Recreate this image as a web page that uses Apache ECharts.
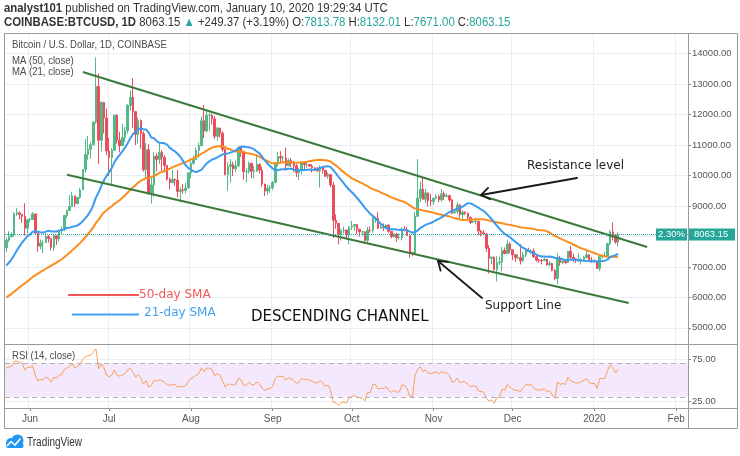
<!DOCTYPE html>
<html><head><meta charset="utf-8">
<script src="https://cdn.jsdelivr.net/npm/echarts@6/dist/echarts.min.js"></script>
<style>html,body{margin:0;padding:0;background:#fff}#c{width:740px;height:456px}</style>
</head><body><div id="c"></div>
<script>
// ---------- data ----------
const startDate = '2019-05-23';
const axisEndDate = '2020-02-05';
// closes before the visible window (Apr 1 - May 22, 2019), used for MA / RSI warm-up
const histCloses = [4146,4880,4975,4905,5045,5055,5190,5280,5195,5325,5030,5085,5075,5160,5030,5210,5240,5285,5285,5325,5290,5390,5545,5445,5210,5275,5270,5285,5225,5325,
  5380,5480,5760,5855,5780,5720,5840,5970,6150,6350,7250,6975,7815,7985,8200,7880,7355,7260,8195,7990,7960,7630];
const opens = [
  7630,7880,7995,8060,8740,8775,8720,8660,8270,
  8550,8555,8740,8110,7680,7790,7800,8000,7930,7630, 8020,7920,8180,8230,8690,8850,8980,9330,9080,9280, 9530,10200,10690,10860,11010,11750,12930,11160,12400,11890,
  10810,10590,10830,11980,11170,10980,11250,11480,12300,12570, 12100,11350,11810,11380,10190,10850,9430,9690,10640,10530, 10760,10590,10330,9880,9770,9880,9850,9480,9530,9510,9590,
  10090,10400,10530,10820,10980,11800,11460,11980,11980,11860, 11290,11560,11390,10860,10030,10300,10360,10220,10320,10920, 10760,10130,10130,10400,10140,10140,10370,10180,9720,9490,9580,
  9600,9770,10390,10620,10580,10580,10320,10490,10410,10320, 10100,10160,10420,10360,10360,10310,10260,10190,10160,10270, 10170,9980,10030,9690,8530,8430,8060,8190,8210,8050,
  8300,8340,8390,8240,8150,8150,7870,8210,8190,8590, 8590,8270,8300,8290,8370,8170,8000,8080,7960,7960, 8230,8220,8030,7470,7440,8660,9260,9550,9220,9430,9180,
  9150,9250,9310,9200,9400,9310,9340,9200,8770,8810, 9030,8720,8800,8760,8630,8460,8490,8500,8180,8120, 8080,7610,7280,7320,6910,7140,7160,7540,7440,7750,
  7560,7400,7300,7300,7200,7390,7540,7500,7520,7340, 7220,7210,7200,7250,7070,7110,6880,6620,7280,7150, 7190,7140,7510,7320,7260,7200,7200,7250,7310,7390,7220,
  7170,7180,6950,7340,7350,7350,7760,8150,8050,7813.78];
const highs = [
  7960,8170,8140,8800,8940,8820,8740,9090,8580,
  8620,8800,8750,8115,7900,7870,8120,8050,7950,8060, 8040,8220,8330,8710,8880,9360,9470,9340,9300,9600, 10200,11200,11300,11090,11780,13880,13350,12440,12420,12200,
  11240,10900,11980,12010,11440,11700,11600,12350,12800,13200, 12100,11900,11840,11450,11070,11030,9990,10770,10740,11090, 10840,10670,10340,9930,10190,9890,10190,9610,9720,9750,10110,
  10470,10660,10920,11080,11940,12320,12140,12060,12030,11950, 11600,11570,11450,10890,10440,10540,10460,10500,10960,10950, 10790,10240,10460,10420,10310,10650,10390,10290,9730,9690,9680,
  9820,10450,10780,10800,10650,10920,10560,10580,10480,10380, 10250,10450,10440,10420,10380,10370,10270,10280,10330,10280, 10180,10100,10050,9790,8720,8440,8260,8320,8220,8340,
  8510,8390,8400,8250,8180,8170,8310,8330,8660,8650, 8800,8420,8430,8400,8400,8180,8110,8120,8100,8300, 8340,8300,8040,7500,8800,10540,9800,9950,9560,9440,9400,
  9280,9380,9370,9550,9480,9420,9370,9230,8880,9120, 9070,8860,8820,8790,8650,8530,8620,8500,8210,8200, 8110,7710,7340,7340,7350,7340,7650,7640,7870,7810,
  7560,7420,7410,7750,7490,7560,7630,7580,7610,7400, 7260,7260,7300,7260,7190,7140,6930,7440,7360,7220, 7190,7520,7690,7430,7270,7440,7280,7360,7520,7420,7330,
  7250,7210,7400,7400,7500,7800,8210,8460,8050,8132.01];
const lows = [
  7480,7810,7960,7990,8680,8560,8450,8030,8110,
  8460,8550,8080,7500,7580,7450,7790,7800,7540,7520, 7720,7840,8050,8180,8610,8850,8980,8960,9050,9240, 9530,10100,10520,10560,11010,11700,10380,10790,11380,10670,
  9980,9700,10830,11050,10760,10980,11100,11380,12130,11570, 11000,11060,10880,10130,9880,9370,9080,9300,10140,10380, 10150,10100,9830,9550,9760,9660,9280,9120,9400,9410,9580,
  9910,10350,10520,10580,10980,11230,11420,11480,11670,11200, 11140,11260,10780,10010,9500,9770,9990,10110,10270,10610, 9860,9770,10060,9920,9900,10120,10060,9630,9330,9360,9430,
  9530,9760,10300,10400,10470,10160,10310,10280,10120,9950, 9860,10040,10160,10260,10280,10100,10150,10110,9610,10060, 9960,9900,9620,7950,8250,7740,7870,8110,7900,7740,
  8210,8180,8070,8000,8030,7770,7790,8120,8120,8450, 8240,8260,8180,8250,8120,7940,7960,7830,7900,7870, 8160,8020,7300,7360,7400,8640,9130,9190,9100,8980,8990,
  9040,9220,9120,9140,9200,9290,9130,8730,8760,8740, 8600,8570,8700,8570,8400,8450,8400,8050,8000,8040, 7500,6780,7090,6880,6520,7070,6850,7410,7420,7450,
  7220,7160,7250,7080,7170,7320,7490,7420,7290,7170, 7130,7080,7200,7030,7020,6850,6560,6430,7040,7080, 7090,7130,7260,7160,7130,7160,7080,7240,7280,7220,7150,
  7150,6930,6870,7270,7320,7350,7720,7870,7760,7671.00];
const closes = [
  7880,7995,8060,8740,8775,8720,8660,8270,8550,
  8555,8740,8110,7680,7790,7800,8000,7930,7630,8020, 7920,8180,8230,8690,8850,8980,9330,9080,9280,9530, 10200,10690,10860,11010,11750,12930,11160,12400,11890,10810,
  10590,10830,11980,11170,10980,11250,11480,12300,12570,12100, 11350,11810,11380,10190,10850,9430,9690,10640,10530,10760, 10590,10330,9880,9770,9880,9850,9480,9530,9510,9590,10090,
  10400,10530,10820,10980,11800,11460,11980,11980,11860,11290, 11560,11390,10860,10030,10300,10360,10220,10320,10920,10760, 10130,10130,10400,10140,10140,10370,10180,9720,9490,9580,9600,
  9770,10390,10620,10580,10580,10320,10490,10410,10320,10100, 10160,10420,10360,10360,10310,10260,10190,10160,10270,10170, 9980,10030,9690,8530,8430,8060,8190,8210,8050,8300,
  8340,8390,8240,8150,8150,7870,8210,8190,8590,8590, 8270,8300,8290,8370,8170,8000,8080,7960,7960,8230, 8220,8030,7470,7440,8660,9260,9550,9220,9430,9180,9150,
  9250,9310,9200,9400,9310,9340,9200,8770,8810,9030, 8720,8800,8760,8630,8460,8490,8500,8180,8120,8080, 7610,7280,7320,6910,7140,7160,7540,7440,7750,7560,
  7400,7300,7300,7200,7390,7540,7500,7520,7340,7220, 7210,7200,7250,7070,7110,6880,6620,7280,7150,7190, 7140,7510,7320,7260,7200,7200,7250,7310,7390,7220,7170,
  7180,6950,7340,7350,7350,7760,8150,8050,7813.78,8063.15];
const priceTicks = [5000,6000,7000,8000,9000,10000,11000,12000,13000,14000];
const rsiTicks = [25,75];
const rsiBands = [30,70];
const monthNames = ['Jan','Feb','Mar','Apr','May','Jun','Jul','Aug','Sep','Oct','Nov','Dec'];
// drawn channel (date, price) anchors
const resistanceLine = [['2019-06-21',13401],['2020-01-21',7654]];
const supportLine = [['2019-06-15',10025],['2020-01-14',5814]];
const lastLabelPct = '2.30%';

// ---------- helpers ----------
const SANS = '"Liberation Sans",Arial,sans-serif';
const DEJAVU = '"DejaVu Sans",Verdana,sans-serif';
function pad(n){return n<10?'0'+n:''+n;}
const dates = [];
(function(){
  const s = startDate.split('-').map(Number), e = axisEndDate.split('-').map(Number);
  let t = Date.UTC(s[0],s[1]-1,s[2]); const end = Date.UTC(e[0],e[1]-1,e[2]);
  while (t <= end) { const d = new Date(t); dates.push(d.getUTCFullYear()+'-'+pad(d.getUTCMonth()+1)+'-'+pad(d.getUTCDate())); t += 86400000; }
})();
const isMonthStart = (i, v) => v.slice(8) === '01';
const monthLabel = v => { const m = +v.slice(5,7); return m === 1 ? v.slice(0,4) : monthNames[m-1]; };

const allCloses = histCloses.concat(closes);
const off = histCloses.length;
function sma(values, n){ return values.map((v,i)=>{ if(i<n-1) return null; let s=0; for(let k=i-n+1;k<=i;k++) s+=values[k]; return s/n; }); }
function rsi(values, n){
  const out = new Array(values.length).fill(null); let g=0,l=0;
  for(let i=1;i<=n;i++){ const d=values[i]-values[i-1]; if(d>0) g+=d; else l-=d; }
  g/=n; l/=n; out[n] = 100-100/(1+g/l);
  for(let i=n+1;i<values.length;i++){ const d=values[i]-values[i-1]; g=(g*(n-1)+Math.max(d,0))/n; l=(l*(n-1)+Math.max(-d,0))/n; out[i] = l===0?100:100-100/(1+g/l); }
  return out;
}
const ma50 = sma(allCloses,50), ma21 = sma(allCloses,21), rsi14 = rsi(allCloses,14);
const candle = dates.map((d,i)=> i<closes.length ? [opens[i],closes[i],lows[i],highs[i]] : '-');
const ma50Data = dates.map((d,i)=> i<closes.length ? +ma50[off+i].toFixed(2) : '-');
const ma21Data = dates.map((d,i)=> i<closes.length ? +ma21[off+i].toFixed(2) : '-');
const rsiData = dates.map((d,i)=> i<closes.length ? +rsi14[off+i].toFixed(2) : '-');

const UP = '#53b987', DOWN = '#eb4d5c', GRID = '#e9eef4', AXTXT = '#555';

const chart = echarts.init(document.getElementById('c'));
chart.setOption({
  animation:false,
  grid:[{left:5, top:33, width:683, height:311},{left:5, top:344, width:683, height:64}],
  xAxis:[
    {type:'category', gridIndex:0, data:dates, boundaryGap:true,
     axisLine:{show:false}, axisTick:{show:false}, axisLabel:{show:false},
     splitLine:{show:true, interval:isMonthStart, lineStyle:{color:GRID, width:1}}},
    {type:'category', gridIndex:1, data:dates, boundaryGap:true,
     axisLine:{show:false},
     axisTick:{show:true, interval:isMonthStart, alignWithLabel:true, length:3, lineStyle:{color:'#888'}},
     axisLabel:{show:true, interval:isMonthStart, formatter:monthLabel, color:AXTXT, fontFamily:SANS, fontSize:10, margin:6},
     splitLine:{show:true, interval:isMonthStart, lineStyle:{color:GRID, width:1}}}
  ],
  yAxis:[
    {type:'value', gridIndex:0, position:'right', min:4468, max:14681, scale:true,
     axisLine:{show:false},
     axisTick:{show:true, customValues:priceTicks, length:3, lineStyle:{color:'#888'}},
     axisLabel:{customValues:priceTicks, formatter:v=>v.toFixed(2), color:AXTXT, fontFamily:SANS, fontSize:9.5, margin:4},
     splitLine:{show:true, lineStyle:{color:GRID}}},
    {type:'value', gridIndex:1, position:'right', min:16.7, max:92.9,
     axisLine:{show:false},
     axisTick:{show:true, customValues:rsiTicks, length:3, lineStyle:{color:'#888'}},
     axisLabel:{customValues:rsiTicks, formatter:v=>v.toFixed(2), color:AXTXT, fontFamily:SANS, fontSize:9.5, margin:4},
     splitLine:{show:true, lineStyle:{color:GRID}}}
  ],
  series:[
    {type:'candlestick', xAxisIndex:0, yAxisIndex:0, data:candle, barWidth:2,
     itemStyle:{color:UP, color0:DOWN, borderColor:UP, borderColor0:DOWN, borderWidth:1},
     markLine:{silent:true, symbol:['none','none'], label:{show:false},
       data:[
         [{coord:resistanceLine[0], lineStyle:{color:'#3b7a3b', width:2, type:'solid'}},{coord:resistanceLine[1]}],
         [{coord:supportLine[0], lineStyle:{color:'#3b7a3b', width:2, type:'solid'}},{coord:supportLine[1]}],
         {yAxis:closes[closes.length-1], lineStyle:{color:'#26a69a', width:1, type:'dotted'}}
       ]}},
    {type:'line', xAxisIndex:0, yAxisIndex:0, data:ma50Data, showSymbol:false, lineStyle:{color:'#fb8c1e', width:2}, z:3},
    {type:'line', xAxisIndex:0, yAxisIndex:0, data:ma21Data, showSymbol:false, lineStyle:{color:'#3a9bf0', width:2}, z:3},
    {type:'line', xAxisIndex:1, yAxisIndex:1, data:rsiData, showSymbol:false, lineStyle:{color:'#f7a05a', width:1}, z:3,
     markArea:{silent:true, itemStyle:{color:'#f4e8fd'}, data:[[{yAxis:rsiBands[0]},{yAxis:rsiBands[1]}]]},
     markLine:{silent:true, symbol:['none','none'], label:{show:false},
       lineStyle:{color:'#b9adbd', width:1, type:[5,4]},
       data:[{yAxis:rsiBands[0]},{yAxis:rsiBands[1]}]}}
  ]
});

// ---------- overlays ----------
const last = closes[closes.length-1], prev = closes[closes.length-2];
const chg = last - prev, pct = chg/prev*100;
const yLast = chart.convertToPixel({yAxisIndex:0}, last);

function arrow(head, tail){
  const ang = Math.atan2(tail[1]-head[1], tail[0]-head[0]);
  const L = 10, sp = 35*Math.PI/180;
  const w1 = [head[0]+L*Math.cos(ang+sp), head[1]+L*Math.sin(ang+sp)];
  const w2 = [head[0]+L*Math.cos(ang-sp), head[1]+L*Math.sin(ang-sp)];
  const ls = {stroke:'#1a1a1a', lineWidth:1.8, lineCap:'round'};
  return [
    {type:'polyline', shape:{points:[tail, head]}, style:ls, z:20},
    {type:'polyline', shape:{points:[w1, head, w2]}, style:ls, z:20}
  ];
}
const frameStroke = {stroke:'#9a9a9a', lineWidth:1, fill:null};
const legendTxt = (t, y) => ({type:'text', x:12, y:y, scaleX:0.87, style:{text:t, font:'11px '+SANS, fill:'#4a4a4a', verticalAlign:'middle'}, z:25});
const graphics = [
  {type:'text', x:4, y:9, scaleX:0.91, style:{text:'{b|analyst101} published on TradingView.com, January 10, 2020 19:29:34 UTC', font:'12.5px '+SANS, fill:'#333', verticalAlign:'middle',
    rich:{b:{fontWeight:'bold', fontSize:12.5, fontFamily:SANS, fill:'#333'}}}},
  {type:'text', x:4, y:23, scaleX:0.91, style:{text:'{b|COINBASE:BTCUSD, 1D} '+last.toFixed(2)+' {g|▲} +'+chg.toFixed(2)+' (+'+pct.toFixed(2)+'%) O:{g|'+opens[opens.length-1].toFixed(2)+'} H:{g|'+highs[highs.length-1].toFixed(2)+'} L:{g|'+lows[lows.length-1].toFixed(2)+'} C:{g|'+last.toFixed(2)+'}',
    font:'12.5px '+SANS, fill:'#333', verticalAlign:'middle',
    rich:{b:{fontWeight:'bold', fontSize:12.5, fontFamily:SANS, fill:'#333'}, g:{fontSize:12.5, fontFamily:SANS, fill:'#26a69a'}}}},
  // frame
  {type:'rect', shape:{x:4.5, y:33.5, width:733, height:395}, style:frameStroke, z:30},
  {type:'line', shape:{x1:4.5, y1:344.5, x2:737.5, y2:344.5}, style:frameStroke, z:30},
  {type:'line', shape:{x1:4.5, y1:408.5, x2:737.5, y2:408.5}, style:frameStroke, z:30},
  {type:'line', shape:{x1:688.5, y1:33.5, x2:688.5, y2:428.5}, style:frameStroke, z:30},
  // pane legends
  legendTxt('Bitcoin / U.S. Dollar, 1D, COINBASE', 45),
  legendTxt('MA (50, close)', 60.5),
  legendTxt('MA (21, close)', 72),
  legendTxt('RSI (14, close)', 356),
  // price label
  {type:'rect', shape:{x:656, y:yLast-6, width:31, height:12}, style:{fill:'#26a69a'}, z:26},
  {type:'text', x:671.5, y:yLast, style:{text:lastLabelPct, font:'9.5px '+SANS, fill:'#fff', align:'center', verticalAlign:'middle'}, z:27},
  {type:'rect', shape:{x:689, y:yLast-6, width:46, height:12}, style:{fill:'#26a69a'}, z:26},
  {type:'text', x:694, y:yLast, style:{text:last.toFixed(2), font:'9.5px '+SANS, fill:'#fff', verticalAlign:'middle'}, z:27},
  // SMA annotation
  {type:'line', shape:{x1:68, y1:295, x2:139, y2:295}, style:{stroke:'#f25a5a', lineWidth:2}, z:22},
  {type:'text', x:139, y:295, style:{text:'50-day SMA', font:'12px '+DEJAVU, fill:'#f25a5a', verticalAlign:'middle'}, z:22},
  {type:'line', shape:{x1:72, y1:314.5, x2:139, y2:314.5}, style:{stroke:'#42a0f0', lineWidth:2}, z:22},
  {type:'text', x:144, y:313, style:{text:'21-day SMA', font:'12px '+DEJAVU, fill:'#42a0f0', verticalAlign:'middle'}, z:22},
  {type:'text', x:251, y:317, style:{text:'DESCENDING CHANNEL', font:'15px '+DEJAVU, fill:'#111', verticalAlign:'middle'}, z:22},
  {type:'text', x:527, y:166, style:{text:'Resistance level', font:'12px '+DEJAVU, fill:'#222', verticalAlign:'middle'}, z:22},
  {type:'text', x:485, y:306, style:{text:'Support Line', font:'12px '+DEJAVU, fill:'#222', verticalAlign:'middle'}, z:22},
  // TradingView logo
  {type:'circle', shape:{cx:11, cy:443, r:5}, style:{fill:'#2196f3'}},
  {type:'circle', shape:{cx:17.5, cy:440.5, r:6}, style:{fill:'#2196f3'}},
  {type:'rect', shape:{x:6, y:443, width:17.5, height:5, r:2}, style:{fill:'#2196f3'}},
  {type:'polyline', shape:{points:[[7,446],[11,441.5],[15,445],[20.5,438.5]]}, style:{stroke:'#fff', lineWidth:1.6, fill:null}},
  {type:'text', x:27, y:443, scaleX:0.8, style:{text:'TradingView', font:'12.5px '+SANS, fill:'#333', verticalAlign:'middle'}}
].concat(arrow([481,195],[577,178]), arrow([438,261],[482,298]));
chart.setOption({graphic:graphics});
</script>
</body></html>
